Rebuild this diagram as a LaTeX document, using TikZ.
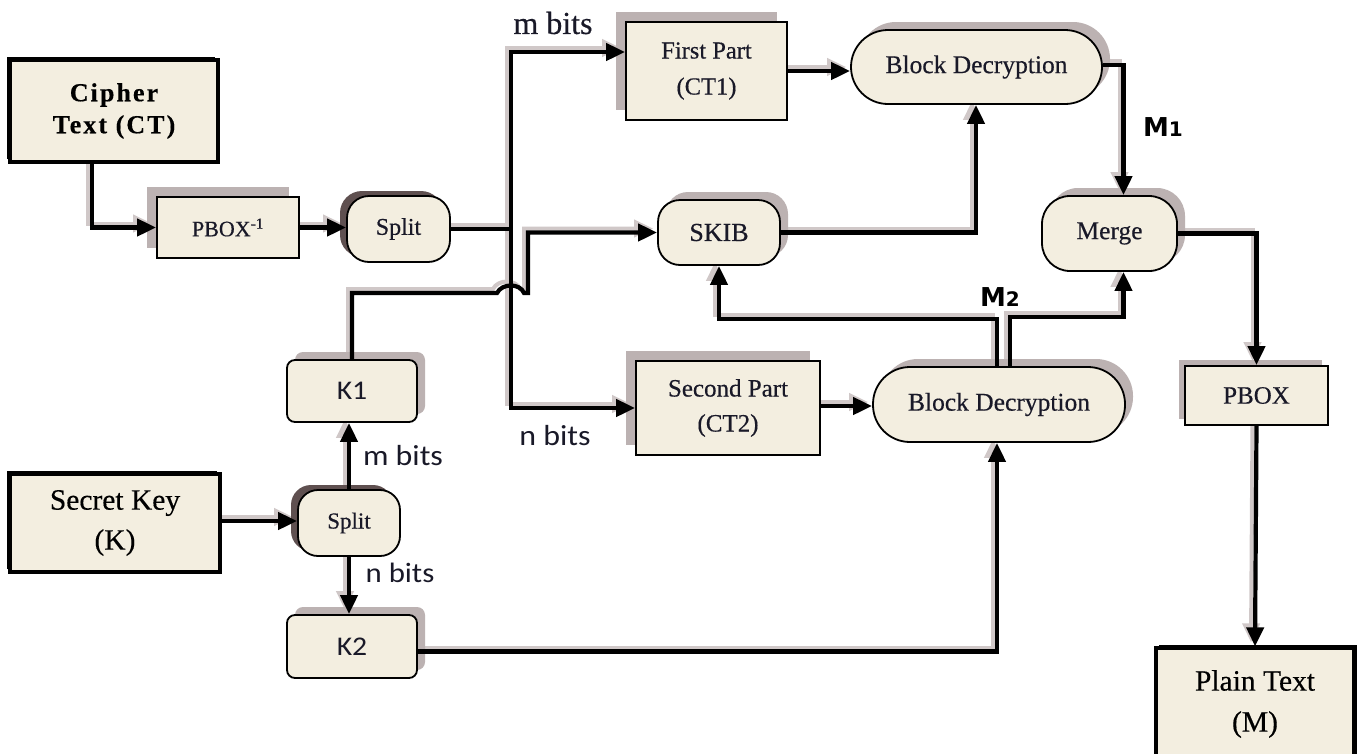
\documentclass[tikz,border=0pt]{standalone}
\usepackage{fontspec}
\setmainfont{Liberation Serif}[FakeBold=0.4]
\setsansfont{Carlito}[FakeStretch=1.1]
\newfontfamily\mfont{DejaVu Sans}
\usetikzlibrary{arrows.meta,shadows}
\pgfdeclarelayer{bg}
\pgfsetlayers{bg,main}
\definecolor{boxfill}{RGB}{243,238,224}
\definecolor{shgray}{RGB}{188,178,178}
\definecolor{lshgray}{RGB}{208,200,200}
\definecolor{shdark}{RGB}{95,80,80}
\definecolor{txt}{RGB}{25,25,40}
\tikzset{
  box/.style={draw=black, line width=1.8pt, fill=boxfill, inner sep=0pt, align=center, text=txt},
  heavy/.style={box, line width=3.2pt, text=black},
  shUR/.style={general shadow={fill=shgray, shadow xshift=8pt, shadow yshift=8pt}},
  shUL/.style={general shadow={fill=shgray, shadow xshift=-10pt, shadow yshift=10pt}},
  shDK/.style={general shadow={fill=shdark, shadow xshift=-7pt, shadow yshift=5pt}},
  shBL/.style={general shadow={fill=black, shadow xshift=-3pt, shadow yshift=3pt}},
  shBR/.style={general shadow={fill=black, shadow xshift=3pt, shadow yshift=3pt}},
  ln/.style={line width=4.2pt},
  arr/.style={line width=4.2pt, -{Triangle[length=19pt,width=17pt]}},
  sln/.style={draw=lshgray, line width=4pt, transform canvas={xshift=-4pt,yshift=4pt}},
  sarr/.style={draw=lshgray, line width=4pt, -{Triangle[length=19pt,width=17pt]}, transform canvas={xshift=-4pt,yshift=4pt}},
}
\newcommand\drawconns[2]{%
\draw[#1] ([xshift=-22pt]CT.south) |- (PBi.west);
\draw[#1] (PBi.east) -- (PBi.east -| sp1.west);
\draw[#1] (jm) -- (jt) -- (jt -| CT1.west);
\draw[#1] (jm) -- (jb) -- (jb -| CT2.west);
\draw[#2] (sp1.east) -- (jm);
\draw[#1] (K1.north) |- (497,293) .. controls (502,283) and (520,283) .. (524,293) -- (528,293) |- (SKIB.west);
\draw[#1] (SKIB.east) -| ([xshift=-0.5pt]BD1.south);
\draw[#1] (CT1.east) -- (CT1.east -| BD1.west);
\draw[#1] ([yshift=2pt]BD1.east) -| ([xshift=14pt]MG.north);
\draw[#1] (bdl) -- ++(0,-47) -| (SKIB.south);
\draw[#1] (bdr) -- ++(0,-49) -| ([xshift=14pt]MG.south);
\draw[#1] (MG.east) -| (PB.north);
\draw[#1] (PB.south) -- (PT.north);
\draw[#1] ([yshift=2pt]CT2.east) -- ([yshift=2pt]CT2.east -| BD2.west);
\draw[#1] ([yshift=2pt]SK.east) -- ([yshift=2pt]SK.east -| sp2.west);
\draw[#1] (sp2.north) -- (sp2.north |- K1.south);
\draw[#1] (sp2.south) -- (sp2.south |- K2.north);
\draw[#1] ([yshift=-5pt]K2.east) -| ([xshift=-2pt]BD2.south);
}
\begin{document}
\begin{tikzpicture}[x=1pt,y=-1pt]
\useasboundingbox (0,0) rectangle (1362,753);
\begin{pgfonlayer}{bg}
\fill[white] (0,0) rectangle (1362,753);
\end{pgfonlayer}

\coordinate (jt) at (511,52);
\coordinate (jb) at (511,408);
\coordinate (jm) at (511,229);

% nodes
\node[heavy, shBL, minimum width=208pt, minimum height=102pt,
  font=\fontsize{26}{32}\selectfont\bfseries\addfontfeature{LetterSpace=8}] (CT) at (114,111) {Cipher\\Text (CT)};
\node[box, shUL, minimum width=142pt, minimum height=61pt, font=\fontsize{22}{24}\selectfont] (PBi) at (228,227.5) {PBOX\textsuperscript{-1}};
\node[box, shDK, rounded corners=22pt, minimum width=103pt, minimum height=66pt, font=\fontsize{24}{24}\selectfont] (sp1) at (398.5,229) {Split};
\node[box, shUL, minimum width=161pt, minimum height=98pt, font=\fontsize{24.5}{36}\selectfont] (CT1) at (706.5,71) {First Part\\(CT1)};
\node[box, shUR, rounded corners=37pt, minimum width=251pt, minimum height=74pt, font=\fontsize{25.5}{26}\selectfont] (BD1) at (976.5,67) {Block Decryption};
\node[box, shUR, rounded corners=22pt, minimum width=122pt, minimum height=65pt, font=\fontsize{26}{26}\selectfont] (SKIB) at (719,232.5) {SKIB};
\node[box, shUR, rounded corners=28pt, minimum width=135pt, minimum height=75pt, font=\fontsize{25.5}{26}\selectfont] (MG) at (1109.5,233.5) {Merge};
\node[box, shUR, rounded corners=8pt, minimum width=130pt, minimum height=62pt, font=\sffamily\fontsize{27}{28}\selectfont] (K1) at (352,391) {K1};
\node[box, shUL, minimum width=184pt, minimum height=94pt, font=\fontsize{25}{35}\selectfont] (CT2) at (728,408) {Second Part\\(CT2)};
\node[box, shUR, rounded corners=37pt, minimum width=252pt, minimum height=75pt, font=\fontsize{25.5}{26}\selectfont] (BD2) at (999,404.5) {Block Decryption};
\node[box, general shadow={fill=shgray, shadow xshift=-6pt, shadow yshift=6pt}, minimum width=143pt, minimum height=59pt, font=\fontsize{25}{26}\selectfont] (PB) at (1256.5,395.5) {PBOX};
\node[heavy, shBL, minimum width=210pt, minimum height=98pt, font=\fontsize{29.5}{40}\selectfont\mdseries] (SK) at (115,523) {Secret Key\\(K)};
\node[box, shDK, rounded corners=20pt, minimum width=102pt, minimum height=66pt, font=\fontsize{23}{24}\selectfont] (sp2) at (349,523) {Split};
\node[box, shUR, rounded corners=8pt, minimum width=130pt, minimum height=63pt, font=\sffamily\fontsize{27}{28}\selectfont] (K2) at (352,646.5) {K2};
\node[heavy, shBR, minimum width=198pt, minimum height=112pt, font=\fontsize{29.5}{41}\selectfont] (PT) at (1255,704) {Plain Text\\(M)};

% labels
\node[font=\fontsize{32}{32}\selectfont, text=txt] (lm1) at (553,23) {m bits};
\node[font=\sffamily\fontsize{29}{30}\selectfont, text=txt] (ln1) at (555,436) {n bits};
\node[font=\sffamily\fontsize{29}{30}\selectfont, text=txt] (lm2) at (403,456) {m bits};
\node[font=\sffamily\fontsize{28}{30}\selectfont, text=txt] (ln2) at (400,573) {n bits};
\node[font=\mfont\bfseries\fontsize{26}{26}\selectfont, text=black] (M1) at (1163,127) {M{\fontsize{20}{20}\selectfont 1}};
\node[font=\mfont\bfseries\fontsize{26}{26}\selectfont, text=black] (M2) at (1000,297) {M{\fontsize{20}{20}\selectfont 2}};

\coordinate (bdl) at ([xshift=-2pt]BD2.north);
\coordinate (bdr) at ([xshift=11pt]BD2.north);

\begin{pgfonlayer}{bg}
\drawconns{sarr}{sln}
\end{pgfonlayer}
\drawconns{arr}{ln}
\end{tikzpicture}
\end{document}
